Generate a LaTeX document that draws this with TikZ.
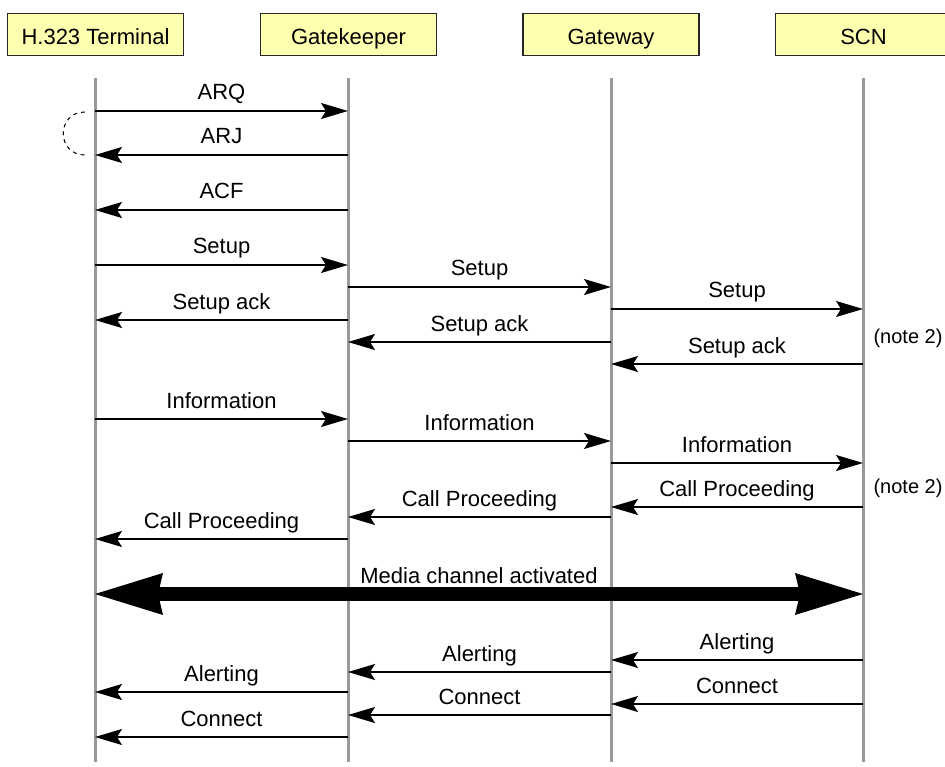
\documentclass[tikz,border=0pt]{standalone}
\usepackage{fontspec}
\setmainfont{Liberation Sans}
\usetikzlibrary{arrows.meta}
\definecolor{hdryellow}{RGB}{255,255,176}
\begin{document}
\begin{tikzpicture}[x=1pt,y=-1pt,
  font=\fontsize{22}{22}\selectfont,
  hdr/.style={draw=black!85,line width=1.3pt,fill=hdryellow,minimum width=176pt,minimum height=42pt,inner sep=0pt,text height=21pt,text depth=0pt},
  life/.style={draw=black!40,line width=3pt},
  msgarrow/.style={line width=1.4pt,-{Stealth[length=27pt,width=16pt,inset=5pt]}},
  lbl/.style={anchor=base,inner sep=0pt,yshift=11pt},
  note/.style={anchor=base,inner sep=0pt,font=\fontsize{20}{20}\selectfont},
  bigarrow/.style={line width=14pt,{Stealth[length=68pt,width=42pt,inset=5pt,line width'=0pt]}-{Stealth[length=68pt,width=42pt,inset=5pt,line width'=0pt]}}
]
\useasboundingbox (0,0) rectangle (945,767);
\clip (0,0) rectangle (945,767);
\fill[white] (0,0) rectangle (945,767);

% headers
\node[hdr] (hT) at (95.5,34.5) {H.323 Terminal};
\node[hdr] (hG) at (348.5,34.5) {Gatekeeper};
\node[hdr] (hW) at (611,34.5) {Gateway};
\node[hdr] (hS) at (863.5,34.5) {SCN};

% lifelines
\coordinate (T) at (95,78);
\coordinate (G) at (348,78);
\coordinate (W) at (611,78);
\coordinate (S) at (863,78);
\coordinate (Tb) at (95,762);
\coordinate (Gb) at (348,762);
\coordinate (Wb) at (611,762);
\coordinate (Sb) at (863,762);
\draw[life] (T) -- (Tb);
\draw[life] (G) -- (Gb);
\draw[life] (W) -- (Wb);
\draw[life] (S) -- (Sb);

% dashed loop
\draw[line width=1pt,dash pattern=on 4pt off 4pt] (85,112) .. controls (56,112) and (56,155) .. (85,155);

% messages
\draw[msgarrow] (T |- 0,111) -- node[lbl]{ARQ} (G |- 0,111);
\draw[msgarrow] (G |- 0,155) -- node[lbl]{ARJ} (T |- 0,155);
\draw[msgarrow] (G |- 0,210) -- node[lbl]{ACF} (T |- 0,210);
\draw[msgarrow] (T |- 0,265) -- node[lbl]{Setup} (G |- 0,265);
\draw[msgarrow] (G |- 0,287) -- node[lbl]{Setup} (W |- 0,287);
\draw[msgarrow] (W |- 0,309) -- node[lbl]{Setup} (S |- 0,309);
\draw[msgarrow] (G |- 0,320) -- node[lbl]{Setup ack} (T |- 0,320);
\draw[msgarrow] (W |- 0,342) -- node[lbl]{Setup ack} (G |- 0,342);
\draw[msgarrow] (S |- 0,364) -- node[lbl]{Setup ack} (W |- 0,364);
\draw[msgarrow] (T |- 0,419) -- node[lbl]{Information} (G |- 0,419);
\draw[msgarrow] (G |- 0,441) -- node[lbl]{Information} (W |- 0,441);
\draw[msgarrow] (W |- 0,463) -- node[lbl]{Information} (S |- 0,463);
\draw[msgarrow] (S |- 0,507) -- node[lbl]{Call Proceeding} (W |- 0,507);
\draw[msgarrow] (W |- 0,517) -- node[lbl]{Call Proceeding} (G |- 0,517);
\draw[msgarrow] (G |- 0,539) -- node[lbl]{Call Proceeding} (T |- 0,539);

\draw[bigarrow] (T |- 0,594) -- node[lbl]{Media channel activated} (S |- 0,594);

\draw[msgarrow] (S |- 0,660) -- node[lbl]{Alerting} (W |- 0,660);
\draw[msgarrow] (W |- 0,672) -- node[lbl]{Alerting} (G |- 0,672);
\draw[msgarrow] (G |- 0,692) -- node[lbl]{Alerting} (T |- 0,692);
\draw[msgarrow] (S |- 0,704) -- node[lbl]{Connect} (W |- 0,704);
\draw[msgarrow] (W |- 0,715) -- node[lbl]{Connect} (G |- 0,715);
\draw[msgarrow] (G |- 0,737) -- node[lbl]{Connect} (T |- 0,737);

% notes
\node[note] (n1) at (908,343) {(note 2)};
\node[note] (n2) at (908,493) {(note 2)};
\end{tikzpicture}
\end{document}
